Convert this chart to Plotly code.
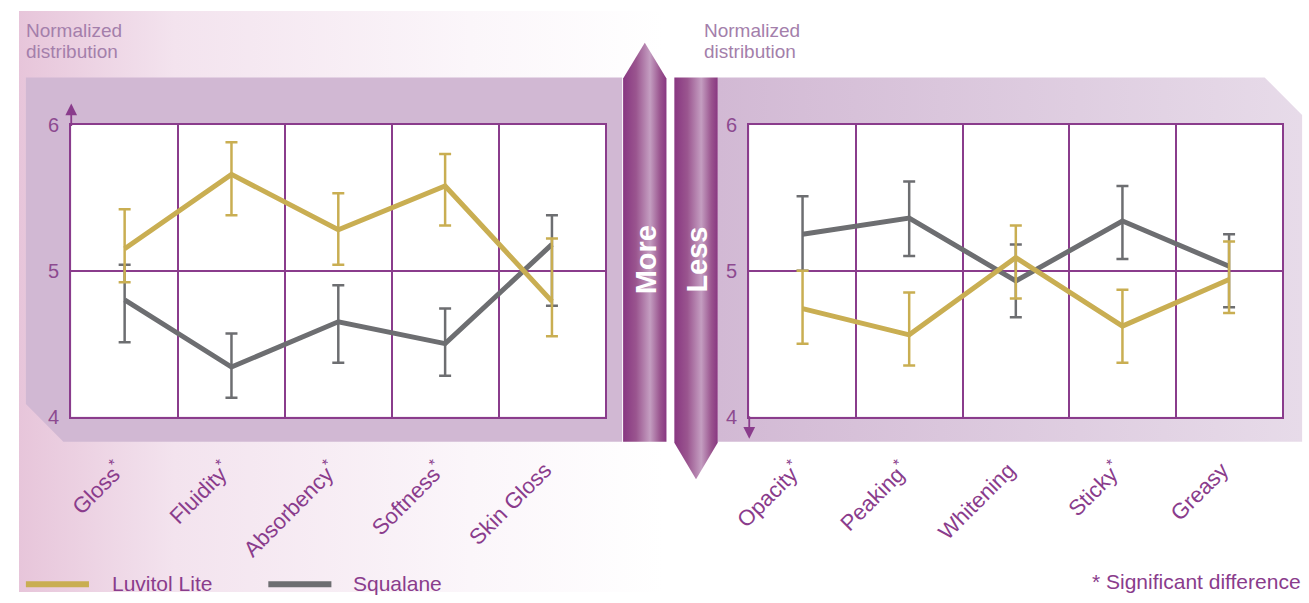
import base64
import plotly.graph_objects as go

# ---------------- data ----------------
left_categories = ["Gloss", "Fluidity", "Absorbency", "Softness", "Skin Gloss"]
left_ticktext = ["Gloss<sup>*</sup>", "Fluidity<sup>*</sup>", "Absorbency<sup>*</sup>",
                 "Softness<sup>*</sup>", "Skin Gloss"]
right_categories = ["Opacity", "Peaking", "Whitening", "Sticky", "Greasy"]
right_ticktext = ["Opacity<sup>*</sup>", "Peaking<sup>*</sup>", "Whitening",
                  "Sticky<sup>*</sup>", "Greasy"]

series_names = ["Luvitol Lite", "Squalane"]

luvitol_left = [5.15, 5.66, 5.28, 5.58, 4.79]
luvitol_left_hi = [5.42, 5.88, 5.53, 5.80, 5.22]
luvitol_left_lo = [4.92, 5.38, 5.04, 5.31, 4.55]

squalane_left = [4.80, 4.34, 4.65, 4.50, 5.18]
squalane_left_hi = [5.04, 4.57, 4.90, 4.74, 5.38]
squalane_left_lo = [4.51, 4.13, 4.37, 4.28, 4.76]

luvitol_right = [4.74, 4.56, 5.09, 4.62, 4.94]
luvitol_right_hi = [5.00, 4.85, 5.31, 4.87, 5.20]
luvitol_right_lo = [4.50, 4.35, 4.81, 4.37, 4.71]

squalane_right = [5.25, 5.36, 4.93, 5.34, 5.03]
squalane_right_hi = [5.51, 5.61, 5.18, 5.58, 5.25]
squalane_right_lo = [5.00, 5.10, 4.68, 5.08, 4.75]

y_tickvals = [4, 5, 6]

# ---------------- style ----------------
W, H = 1309, 603
FONT = "Liberation Sans, Arial, Helvetica, sans-serif"
PURPLE = "#8a3c8c"
TICK_PURPLE = "#8d4a90"
SOFT_PURPLE = "#a47fab"
GOLD = "#c9ae52"
GREY = "#6d6e71"


def px(x):
    return x / W


def py(y):
    return 1 - y / H


svg = f'''<svg xmlns="http://www.w3.org/2000/svg" width="{W}" height="{H}" viewBox="0 0 {W} {H}" preserveAspectRatio="none">
<defs>
<linearGradient id="bg" x1="0" y1="0" x2="1" y2="0">
<stop offset="0" stop-color="#e7c5da"/><stop offset="0.12" stop-color="#f3e3ee"/>
<stop offset="0.35" stop-color="#fbf6fa"/><stop offset="0.5" stop-color="#ffffff"/>
</linearGradient>
<linearGradient id="rb" x1="0" y1="0" x2="1" y2="0">
<stop offset="0" stop-color="#d2b9d4"/><stop offset="1" stop-color="#e7dbe9"/>
</linearGradient>
<linearGradient id="ar" x1="0" y1="0" x2="1" y2="0">
<stop offset="0" stop-color="#883781"/><stop offset="0.3" stop-color="#9a558f"/>
<stop offset="0.62" stop-color="#c49ec1"/><stop offset="0.85" stop-color="#9a558f"/>
<stop offset="1" stop-color="#883781"/>
</linearGradient>
</defs>
<rect x="0" y="0" width="{W}" height="{H}" fill="url(#bg)"/>
<polygon points="7,69 612,69 612,447 45,447 7,408" fill="#d1b8d3"/>
<polygon points="709,69 1264,69 1302,108 1302,447 709,447" fill="url(#rb)"/>
<polygon points="613,70 635,33 657,70 657,447 613,447" fill="url(#ar)"/>
<polygon points="665,69 709,69 709,448 687,486 665,448" fill="url(#ar)"/>
</svg>'''
svg_src = "data:image/svg+xml;base64," + base64.b64encode(svg.encode("utf-8")).decode("ascii")

fig = go.Figure()


def add_series(x, y, hi, lo, color, xa, ya):
    fig.add_trace(go.Scatter(
        x=x, y=y, mode="lines", xaxis=xa, yaxis=ya, showlegend=False,
        line=dict(color=color, width=5),
        error_y=dict(type="data", symmetric=False,
                     array=[h - v for h, v in zip(hi, y)],
                     arrayminus=[v - l for v, l in zip(y, lo)],
                     color=color, thickness=2.5, width=6),
        hoverinfo="skip",
    ))


add_series(left_categories, squalane_left, squalane_left_hi, squalane_left_lo, GREY, "x", "y")
add_series(left_categories, luvitol_left, luvitol_left_hi, luvitol_left_lo, GOLD, "x", "y")
add_series(right_categories, squalane_right, squalane_right_hi, squalane_right_lo, GREY, "x2", "y2")
add_series(right_categories, luvitol_right, luvitol_right_hi, luvitol_right_lo, GOLD, "x2", "y2")

xcommon = dict(type="category", tickson="boundaries", showgrid=True, gridcolor=PURPLE,
               gridwidth=1.5, showline=True, mirror=True, linecolor=PURPLE, linewidth=2,
               ticks="", tickangle=-45, ticklabelstandoff=30, ticklabelshift=-7,
               range=[-0.5, 4.5],
               tickfont=dict(family=FONT, size=22, color=PURPLE), fixedrange=True)
ycommon = dict(range=[4, 6], tickvals=y_tickvals, showgrid=True, gridcolor=PURPLE,
               gridwidth=1.5, showline=True, mirror=True, linecolor=PURPLE, linewidth=2,
               zeroline=False, ticks="", ticklabelstandoff=6,
               tickfont=dict(family=FONT, size=20, color=TICK_PURPLE), fixedrange=True)

y_dom = [py(421), py(118)]

fig.update_layout(
    width=W, height=H, margin=dict(l=0, r=0, t=0, b=0),
    paper_bgcolor="white", plot_bgcolor="white",
    xaxis=dict(xcommon, domain=[px(53), px(595)], tickvals=left_categories, ticktext=left_ticktext),
    yaxis=dict(ycommon, domain=y_dom, anchor="x"),
    xaxis2=dict(xcommon, domain=[px(741), px(1282)], tickvals=right_categories,
                ticktext=right_ticktext, anchor="y2"),
    yaxis2=dict(ycommon, domain=y_dom, anchor="x2"),
    font=dict(family=FONT),
)

fig.add_layout_image(dict(source=svg_src, xref="paper", yref="paper", x=0, y=1,
                          sizex=1, sizey=1, xanchor="left", yanchor="top",
                          sizing="stretch", layer="below"))

# white plot areas above the background image
for xr, yr in (("x domain", "y domain"), ("x2 domain", "y2 domain")):
    fig.add_shape(type="rect", xref=xr, yref=yr, x0=0, x1=1, y0=0, y1=1,
                  fillcolor="white", line=dict(width=0), layer="below")

annotations = []
# axis arrows
annotations.append(dict(xref="paper", yref="paper", x=px(53), y=py(96), ax=0, ay=24,
                        text="", showarrow=True, arrowhead=2, arrowsize=1.3, arrowwidth=1.8,
                        arrowcolor=PURPLE))
annotations.append(dict(xref="paper", yref="paper", x=px(741), y=py(444), ax=0, ay=-24,
                        text="", showarrow=True, arrowhead=2, arrowsize=1.3, arrowwidth=1.8,
                        arrowcolor=PURPLE))
# normalized distribution
for xpos in (5, 693):
    for txt, ypos in (("Normalized", 20), ("distribution", 42)):
        annotations.append(dict(xref="paper", yref="paper", x=px(xpos), y=py(ypos),
                                xanchor="left", yanchor="middle", align="left",
                                showarrow=False, text=txt,
                                font=dict(family=FONT, size=19, color=SOFT_PURPLE)))
# More / Less
annotations.append(dict(xref="paper", yref="paper", x=px(636), y=py(258), showarrow=False,
                        text="<b>More</b>", textangle=-90,
                        font=dict(family=FONT, size=29, color="white")))
annotations.append(dict(xref="paper", yref="paper", x=px(688), y=py(258), showarrow=False,
                        text="<b>Less</b>", textangle=-90,
                        font=dict(family=FONT, size=29, color="white")))
# legend texts
annotations.append(dict(xref="paper", yref="paper", x=px(92), y=py(594), xanchor="left",
                        yanchor="middle", showarrow=False, text=series_names[0],
                        font=dict(family=FONT, size=21, color=PURPLE)))
annotations.append(dict(xref="paper", yref="paper", x=px(337), y=py(594), xanchor="left",
                        yanchor="middle", showarrow=False, text=series_names[1],
                        font=dict(family=FONT, size=21, color=PURPLE)))
annotations.append(dict(xref="paper", yref="paper", x=px(1303), y=py(592), xanchor="right",
                        yanchor="middle", showarrow=False, text="* Significant difference",
                        font=dict(family=FONT, size=21, color=PURPLE)))
fig.update_layout(annotations=annotations)

# legend keys
fig.add_shape(type="line", xref="paper", yref="paper", x0=px(7), x1=px(71), y0=py(595), y1=py(595),
              line=dict(color=GOLD, width=6))
fig.add_shape(type="line", xref="paper", yref="paper", x0=px(253), x1=px(317), y0=py(595), y1=py(595),
              line=dict(color=GREY, width=6))

fig.write_html("out.html", config={"displayModeBar": False},
               post_script="document.body.style.margin='0';document.body.style.padding='0';"
                           "document.body.style.overflow='hidden';"
                           "document.documentElement.style.overflow='hidden';")
